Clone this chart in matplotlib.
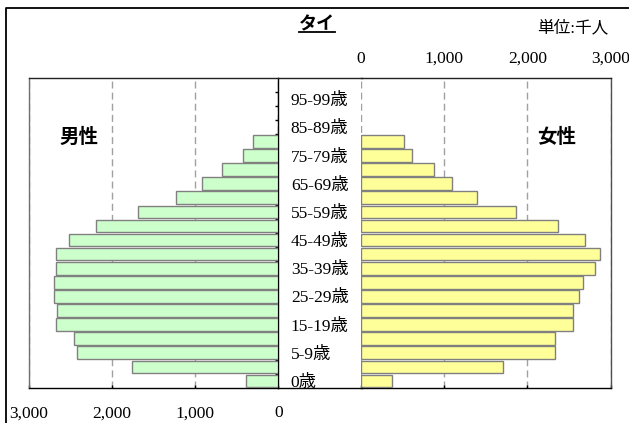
import matplotlib
matplotlib.use("Agg")
import matplotlib.pyplot as plt
from matplotlib.lines import Line2D

# Population of Thailand by age group (thousand persons)
age_groups = ["0歳", "1-4歳", "5-9歳", "10-14歳", "15-19歳", "20-24歳", "25-29歳",
              "30-34歳", "35-39歳", "40-44歳", "45-49歳", "50-54歳", "55-59歳",
              "60-64歳", "65-69歳", "70-74歳", "75-79歳", "80-84歳", "85-89歳",
              "90-94歳", "95-99歳", "100歳以上"]
male = [392, 1760, 2422, 2462, 2675, 2659, 2695, 2695, 2675, 2675, 2515, 2190,
        1685, 1235, 915, 681, 428, 301]
female = [373, 1703, 2332, 2332, 2548, 2548, 2624, 2672, 2816, 2873, 2692, 2368,
          1867, 1398, 1094, 877, 609, 517]
x_ticks = [0, 1000, 2000, 3000]
x_tick_labels = ["0", "1,000", "2,000", "3,000"]

W, H = 629, 423
SERIF = ["Liberation Serif", "Noto Sans CJK JP"]
JP = ["Noto Sans CJK JP", "DejaVu Sans"]


def fx(px):
    return px / W


def fy(py):
    return 1 - py / H


fig = plt.figure(figsize=(W / 100, H / 100), dpi=100)
fig.patch.set_facecolor("white")

top_px, bot_px = 78, 388
ax_m = fig.add_axes([fx(29), fy(bot_px), (278.3 - 29) / W, (bot_px - top_px) / H])
ax_f = fig.add_axes([fx(361), fy(bot_px), (610.7 - 361) / W, (bot_px - top_px) / H])

n = len(age_groups)
bar_h = 0.9
grid_kw = dict(color="#A0A0A0", linestyle=(0, (5, 3)), linewidth=1.0)

# Male side (reversed x-axis)
ax_m.barh(range(len(male)), male, height=bar_h, color="#CCFFCC",
          edgecolor="#808080", linewidth=1.0, zorder=3)
ax_m.set_xlim(3000, 0)
ax_m.set_ylim(-0.5, n - 0.5)
ax_m.set_xticks(x_ticks)
ax_m.set_xticklabels(x_tick_labels, family=SERIF, fontsize=12.5)
ax_m.tick_params(axis="x", direction="in", length=2.5, width=1.0,
                 pad=12.5, colors="black")
ax_m.xaxis.grid(True, **grid_kw)
ax_m.set_axisbelow(True)

# Age labels on the central axis
ax_m.yaxis.tick_right()
label_pos = list(range(0, n - 1, 2))
ax_m.set_yticks(label_pos)
ax_m.set_yticklabels([age_groups[i] for i in label_pos], family=SERIF, fontsize=12.5)
ax_m.set_yticks([i + 0.5 for i in range(n - 1)], minor=True)
ax_m.tick_params(axis="y", which="major", length=0, pad=9.0, left=False, right=True)
ax_m.tick_params(axis="y", which="minor", direction="in", length=2.5, width=1.0,
                 left=False, right=True, color="black")
for side, col in [("top", "#222222"), ("bottom", "black"),
                  ("left", "#707070"), ("right", "black")]:
    ax_m.spines[side].set_color(col)
    ax_m.spines[side].set_linewidth(1.0)

# Female side
ax_f.barh(range(len(female)), female, height=bar_h, color="#FFFF99",
          edgecolor="#808080", linewidth=1.0, zorder=3)
ax_f.set_xlim(0, 3000)
ax_f.set_ylim(-0.5, n - 0.5)
ax_f.set_xticks(x_ticks)
ax_f.set_xticklabels(x_tick_labels, family=SERIF, fontsize=12.5)
ax_f.tick_params(axis="x", direction="in", length=2.5, width=1.0, pad=8.0,
                 bottom=True, top=False, labelbottom=False, labeltop=True)
ax_f.set_yticks([])
ax_f.xaxis.grid(True, **grid_kw)
ax_f.set_axisbelow(True)
ax_f.spines["left"].set_visible(False)
for side, col in [("top", "#222222"), ("bottom", "black"), ("right", "#505050")]:
    ax_f.spines[side].set_color(col)
    ax_f.spines[side].set_linewidth(1.0)

# Frame lines across the label column
fig.add_artist(Line2D([fx(278), fx(362)], [fy(top_px), fy(top_px)],
                      transform=fig.transFigure, color="#222222", lw=1.0))
fig.add_artist(Line2D([fx(278), fx(362)], [fy(bot_px), fy(bot_px)],
                      transform=fig.transFigure, color="black", lw=1.0))

# Outer border
fig.add_artist(Line2D([fx(6.5), fx(6.5), fx(640)], [fy(440), fy(8), fy(8)],
                      transform=fig.transFigure, color="black", lw=1.3))

# Title with underline
fig.text(fx(317), fy(24), "タイ", family=JP, fontsize=13, fontweight="bold",
         ha="center", va="center")
fig.add_artist(Line2D([fx(299), fx(335)], [fy(31.7), fy(31.7)],
                      transform=fig.transFigure, color="black", lw=1.3))

fig.text(fx(573), fy(28), "単位:千人", family=SERIF, fontsize=12,
         ha="center", va="center")
fig.text(fx(79), fy(137), "男性", family=JP, fontsize=14, fontweight="bold",
         ha="center", va="center")
fig.text(fx(557), fy(137), "女性", family=JP, fontsize=14, fontweight="bold",
         ha="center", va="center")

fig.savefig("out.png", dpi=100, facecolor="white")
